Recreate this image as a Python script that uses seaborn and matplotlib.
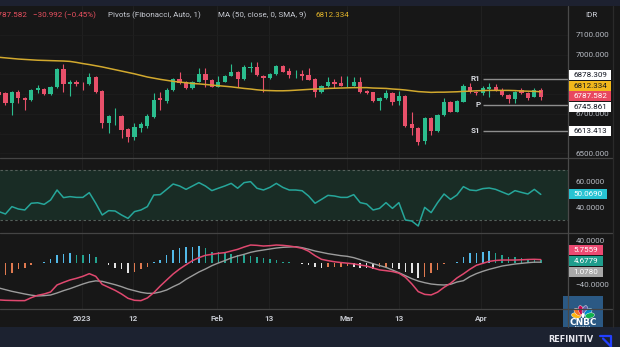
import matplotlib
matplotlib.use("Agg")
import matplotlib.pyplot as plt
import seaborn as sns
import numpy as np
from matplotlib.patches import Rectangle, Ellipse
from matplotlib.lines import Line2D

# ---------------- data ----------------
opens = [6811, 6804, 6754, 6812, 6782, 6770, 6823, 6826, 6799, 6835,
         6927, 6850, 6860, 6851, 6850, 6888, 6816, 6652, 6688, 6689,
         6623, 6584, 6630, 6639, 6686, 6779, 6765, 6821, 6877, 6860,
         6830, 6863, 6901, 6872, 6838, 6863, 6892, 6914, 6877, 6934,
         6939, 6894, 6880, 6902, 6943, 6917, 6896, 6901, 6897, 6875,
         6809, 6841, 6860, 6857, 6845, 6843, 6860, 6816, 6809, 6767,
         6779, 6804, 6765, 6791, 6647, 6630, 6562, 6681, 6613, 6694,
         6759, 6711, 6762, 6838, 6812, 6807, 6826, 6835, 6821, 6796,
         6774, 6819, 6804, 6787, 6818.574]
highs = [6821, 6811, 6817, 6821, 6787, 6824, 6846, 6830, 6843, 6931,
         6951, 6872, 6872, 6860, 6906, 6892, 6820, 6694, 6731, 6694,
         6628, 6652, 6660, 6698, 6804, 6812, 6830, 6882, 6911, 6865,
         6868, 6934, 6931, 6876, 6894, 6896, 6951, 6918, 6948, 6965,
         6965, 6899, 6908, 6946, 6948, 6931, 6922, 6922, 6931, 6880,
         6844, 6888, 6877, 6894, 6894, 6888, 6888, 6820, 6812, 6785,
         6821, 6809, 6816, 6796, 6711, 6635, 6686, 6686, 6698, 6779,
         6765, 6770, 6850, 6855, 6816, 6841, 6855, 6851, 6830, 6801,
         6816, 6830, 6809, 6830, 6830]
lows = [6786, 6745, 6694, 6755, 6720, 6765, 6804, 6796, 6795, 6833,
        6812, 6792, 6841, 6821, 6846, 6808, 6628, 6603, 6644, 6576,
        6559, 6568, 6610, 6630, 6680, 6720, 6754, 6816, 6850, 6824,
        6826, 6860, 6838, 6834, 6834, 6860, 6890, 6838, 6872, 6914,
        6894, 6809, 6877, 6899, 6911, 6880, 6880, 6872, 6870, 6787,
        6806, 6838, 6833, 6841, 6838, 6841, 6804, 6801, 6760, 6720,
        6776, 6745, 6745, 6633, 6593, 6542, 6546, 6593, 6608, 6691,
        6707, 6707, 6760, 6804, 6796, 6796, 6787, 6816, 6791, 6754,
        6754, 6799, 6770, 6785, 6770]
closes = [6796, 6754, 6812, 6779, 6770, 6821, 6830, 6801, 6838, 6927,
          6850, 6860, 6850, 6849, 6888, 6812, 6652, 6688, 6690, 6618,
          6584, 6635, 6647, 6689, 6770, 6770, 6821, 6877, 6855, 6830,
          6863, 6901, 6872, 6838, 6863, 6892, 6914, 6875, 6936, 6939,
          6897, 6884, 6904, 6943, 6914, 6897, 6898, 6894, 6872, 6812,
          6841, 6860, 6850, 6843, 6846, 6860, 6812, 6807, 6765, 6779,
          6804, 6762, 6792, 6640, 6630, 6559, 6681, 6613, 6694, 6762,
          6711, 6765, 6843, 6812, 6804, 6830, 6836, 6821, 6796, 6774,
          6812, 6804, 6782, 6818.574, 6787.582]
ma50 = [6987, 6984, 6981, 6978, 6976, 6974, 6972, 6971, 6970, 6969,
        6968, 6966, 6961, 6955, 6950, 6944, 6938, 6931, 6924, 6917,
        6910, 6903, 6895, 6887, 6881, 6875, 6870, 6865, 6861, 6858,
        6854, 6852, 6849, 6846, 6843, 6840, 6837, 6833, 6829, 6826,
        6822, 6819, 6818, 6817, 6817, 6818, 6820, 6822, 6824, 6826,
        6827, 6829, 6830, 6831, 6832, 6833, 6833, 6833, 6831, 6830,
        6829, 6826, 6824, 6821, 6817, 6813, 6811, 6809, 6810, 6810,
        6811, 6812, 6814, 6815, 6817, 6818, 6819, 6819, 6819, 6819,
        6818, 6816, 6815, 6814, 6812.334]
rsi = [36.3, 34.4, 40.3, 38.4, 37.6, 43.0, 43.4, 42.1, 45.6, 53.6,
       47.5, 48.3, 47.7, 47.7, 51.5, 43.0, 33.6, 37.1, 36.8, 33.6,
       30.9, 36.3, 37.6, 40.3, 49.6, 49.9, 54.1, 58.4, 56.8, 54.1,
       56.8, 59.5, 56.8, 53.1, 55.0, 56.8, 58.9, 55.0, 59.5, 60.3,
       55.0, 53.6, 55.7, 58.9, 55.7, 53.6, 53.6, 53.0, 48.8, 43.0,
       46.1, 49.3, 48.8, 47.7, 47.7, 49.9, 43.5, 42.4, 37.6, 38.9,
       43.5, 38.9, 43.5, 29.6, 28.8, 24.8, 39.7, 35.5, 43.5, 50.4,
       46.1, 49.6, 56.3, 53.6, 53.1, 54.7, 55.2, 54.1, 52.0, 49.9,
       53.1, 51.7, 50.4, 54.1, 50.069]
macd = [-67.0, -67.7, -68.0, -68.3, -68.3, -63.0, -58.7, -56.3, -52.7, -40.0,
        -35.3, -31.0, -28.0, -24.4, -19.6, -24.4, -38.9, -44.3, -49.7, -56.3,
        -64.1, -67.7, -68.3, -63.5, -53.9, -41.9, -31.0, -20.2, -11.2, -3.4,
        3.9, 9.3, 13.5, 15.3, 17.1, 18.3, 21.3, 24.3, 28.5, 32.1,
        31.5, 30.3, 30.9, 32.1, 31.5, 30.3, 28.5, 26.1, 21.0, 12.9,
        6.3, 3.9, 1.9, 0.5, -0.7, -1.9, -4.0, -5.8, -9.4, -12.8,
        -14.2, -15.8, -18.7, -26.0, -38.0, -52.0, -57.0, -58.0, -53.0, -44.3,
        -37.1, -27.4, -20.0, -11.8, -4.6, -1.0, 2.6, 4.2, 5.0, 5.0,
        5.0, 5.4, 6.0, 6.3, 5.7559]
signal = [-45.5, -48.5, -51.5, -53.9, -56.3, -58.4, -59.9, -59.3, -58.1, -54.5,
          -50.3, -46.7, -42.5, -38.3, -34.7, -32.6, -33.5, -36.5, -39.5, -43.1,
          -47.3, -50.3, -53.3, -55.1, -55.1, -52.7, -49.1, -43.1, -37.7, -29.8,
          -23.2, -16.6, -11.2, -5.2, -0.4, 3.9, 8.7, 12.3, 15.3, 18.9,
          21.3, 23.1, 24.9, 26.7, 27.9, 28.5, 29.1, 27.3, 24.5, 21.3,
          18.9, 16.5, 14.7, 12.9, 11.7, 9.3, 5.7, 2.0, -1.6, -4.9,
          -8.2, -13.0, -17.8, -23.2, -28.6, -32.9, -35.9, -38.3, -39.5, -40.1,
          -38.9, -34.7, -32.3, -25.0, -19.6, -15.4, -11.8, -8.8, -5.8, -4.0,
          -2.2, -1.0, 0.2, 1.1, 1.0780]
hist = [-23.0, -22.1, -17.9, -11.8, -10.0, -4.0, 0.5, 1.0, 6.3, 14.5,
        16.0, 17.0, 14.0, 13.5, 15.9, 11.1, 0.5, -4.0, -10.0, -11.8,
        -19.0, -16.0, -11.8, -7.0, 0.8, 5.0, 14.0, 23.0, 26.0, 28.0,
        29.0, 30.0, 26.0, 20.0, 19.0, 17.0, 16.0, 14.0, 13.5, 12.0,
        11.0, 8.0, 6.0, 5.0, 2.0, 1.0, -0.5, -3.0, -4.0, -7.0,
        -10.0, -8.2, -7.0, -6.8, -6.6, -8.2, -10.0, -10.2, -11.8, -8.2,
        -7.0, -10.0, -11.8, -16.0, -19.0, -28.0, -25.0, -19.0, -13.0, -2.8,
        0.3, 1.4, 11.0, 17.0, 18.0, 20.0, 20.5, 17.0, 14.0, 11.0,
        10.0, 8.0, 7.5, 6.2, 4.6779]
date_ticks = [12.8, 20.8, 33.8, 41.9, 53.9, 62.0, 74.8]
date_labels = ["2023", "12", "Feb", "13", "Mar", "13", "Apr"]
pivot_names = ["R1", "P", "S1"]
pivot_values = [6878.309, 6745.861, 6613.413]
pivot_start = 75.0
price_grid = [6500, 6600, 6700, 6800, 6900, 7000, 7100]
price_ticks = [6500, 6700, 7000, 7100]   # the others are hidden under the value boxes
rsi_ticks = [40, 60]
macd_ticks = [-40, 40]

# ---------------- style ----------------
BG = "#171717"
UP, DN = "#2bbd8e", "#e8506a"
MA_COL = "#d2a92e"
RSI_COL = "#26a69a"
MACD_COL, SIG_COL = "#e0486f", "#9c9c9c"
H_BLUE, H_TEAL, H_WHITE, H_ORANGE = "#52b9e8", "#23a390", "#e4e4e4", "#e07a50"
GRID = "#222222"
TXT = "#b8bcc4"
SEP = "#444444"
FS = 5.8

sns.set_theme(style="dark", rc={"axes.facecolor": BG, "figure.facecolor": BG})
plt.rcParams["font.family"] = ["Roboto", "DejaVu Sans"]

W, H = 620, 347
fig = plt.figure(figsize=(6.2, 3.47), dpi=100)
fig.patch.set_facecolor(BG)

def fr(x0, y0, x1, y1):
    return [x0 / W, 1 - y1 / H, (x1 - x0) / W, (y1 - y0) / H]

def fx(x):
    return x / W

def fy(y):
    return 1 - y / H

idx = np.arange(len(closes))
XL = (0.155, 88.22)

axp = fig.add_axes(fr(0, 6, 568, 157.5))
axr = fig.add_axes(fr(0, 157.5, 568, 232.5))
axm = fig.add_axes(fr(0, 232.5, 568, 309))
for ax in (axp, axr, axm):
    ax.set_facecolor(BG)
    ax.grid(False)
    for s in ax.spines.values():
        s.set_visible(False)
    ax.set_xlim(*XL)
    for t in date_ticks:
        ax.axvline(t, color=GRID, lw=0.6, zorder=0)

# ---- price panel ----
o = np.array(opens); c = np.array(closes)
hi = np.array(highs); lo = np.array(lows)
cols = [UP if cc >= oo else DN for oo, cc in zip(o, c)]
for v in price_grid:
    axp.axhline(v, color="#1e1e1e", lw=0.6, zorder=0)
axp.vlines(idx, lo, hi, colors=cols, lw=0.8, zorder=2)
body = np.maximum(np.abs(c - o), 3.0)
axp.bar(idx, body, bottom=np.minimum(o, c), width=0.66, color=cols, linewidth=0, zorder=2)
sns.lineplot(x=idx, y=ma50, ax=axp, color=MA_COL, lw=1.1, legend=False, zorder=3)
for name, v in zip(pivot_names, pivot_values):
    axp.hlines(v, pivot_start, XL[1], color="#8e8e8e", lw=1.0, zorder=2)
    axp.text(pivot_start - 0.35, v, name, ha="right", va="center", color="#d8dae0",
             fontsize=FS, fontweight="bold")
axp.set_ylim(6478.7, 7247)
axp.yaxis.tick_right()
axp.set_yticks(price_ticks)
axp.set_yticklabels([f"{v:.3f}" for v in price_ticks])

# ---- RSI panel ----
axr.axhspan(30, 70, color="#192c25", lw=0, zorder=0)
axr.axhline(70, color="#55605b", lw=0.8, ls=(0, (2.2, 2.2)), zorder=1)
axr.axhline(30, color="#55605b", lw=0.8, ls=(0, (2.2, 2.2)), zorder=1)
sns.lineplot(x=idx, y=rsi, ax=axr, color=RSI_COL, lw=1.1, legend=False, zorder=3)
axr.set_ylim(19.6, 79.6)
axr.yaxis.tick_right()
axr.set_yticks(rsi_ticks)
axr.set_yticklabels([f"{v:.4f}" for v in rsi_ticks])

# ---- MACD panel ----
hcols = []
prev = None
for h in hist:
    p = h if prev is None else prev
    if h >= 0:
        hcols.append(H_BLUE if h > p else H_TEAL)
    else:
        hcols.append(H_WHITE if h < p else H_ORANGE)
    prev = h
axm.bar(idx, hist, width=0.24, color=hcols, linewidth=0, zorder=2)
sns.lineplot(x=idx, y=signal, ax=axm, color=SIG_COL, lw=1.0, legend=False, zorder=3)
sns.lineplot(x=idx, y=macd, ax=axm, color=MACD_COL, lw=1.1, legend=False, zorder=4)
axm.set_ylim(-83.4, 54.7)
axm.yaxis.tick_right()
axm.set_yticks(macd_ticks)
axm.set_yticklabels([f"{v:.4f}".replace("-", "\u2212") for v in macd_ticks])

for ax in (axp, axr, axm):
    ax.set_xlabel(""); ax.set_ylabel("")
    ax.tick_params(axis="y", length=0, pad=5.3, labelsize=FS, labelcolor=TXT,
                   left=False, labelleft=False, right=False, labelright=True)
for ax in (axp, axr):
    ax.set_xticks([])
axm.set_xticks(date_ticks)
axm.set_xticklabels(date_labels)
axm.tick_params(axis="x", length=0, pad=4.6, labelsize=FS, labelcolor="#c4c7ce")
for lab in axm.get_xticklabels():
    lab.set_fontweight("bold")

# ---- frame / separators ----
fig.add_artist(Rectangle((0, fy(6)), 1, 6 / H, transform=fig.transFigure,
                         fc="#1d2130", ec="none", zorder=0.5))
fig.add_artist(Rectangle((0, 0), 1, 20 / H, transform=fig.transFigure,
                         fc="#1c2230", ec="none", zorder=0.5))
for y in (157.5, 232.5, 309):
    fig.add_artist(Line2D([0, fx(613)], [fy(y), fy(y)], color=SEP, lw=0.9,
                          transform=fig.transFigure))
fig.add_artist(Line2D([fx(568), fx(568)], [fy(6), fy(327)], color="#4a4a4a", lw=0.9,
                      transform=fig.transFigure))
fig.add_artist(Line2D([fx(613), fx(613)], [fy(6), fy(327)], color="#2a2a2a", lw=0.9,
                      transform=fig.transFigure))

# ---- header text ----
chg = closes[-1] - closes[-2]
pct = chg / closes[-2] * 100
RED = "#e8505f"
fig.text(fx(27), fy(15), f"{closes[-1]:.3f}", ha="right", va="center", color=RED, fontsize=FS)
fig.text(fx(33), fy(15), f"{chg:.3f} ({pct:.2f}%)".replace("-", "\u2212"), ha="left", va="center",
         color=RED, fontsize=FS)
fig.text(fx(108), fy(15), "Pivots (Fibonacci, Auto, 1)", ha="left", va="center",
         color="#c8cbd3", fontsize=FS)
fig.text(fx(218), fy(15), "MA (50, close, 0, SMA, 9)", ha="left", va="center",
         color="#c8cbd3", fontsize=FS)
fig.text(fx(316), fy(15), f"{ma50[-1]:.3f}", ha="left", va="center", color="#e3b52a", fontsize=FS)
fig.text(fx(591), fy(15), "IDR", ha="center", va="center", color="#d1d4dc", fontsize=FS)

# ---- value boxes on the right scale ----
def vbox(text, yc, x1, fc, tc, x0=569, h=10):
    fig.add_artist(Rectangle((fx(x0), fy(yc + h / 2)), (x1 - x0) / W, h / H,
                             transform=fig.transFigure, fc=fc, ec="none", zorder=3))
    fig.text(fx((x0 + x1) / 2), fy(yc), text, ha="center", va="center", color=tc,
             fontsize=FS, zorder=4)

vbox(f"{pivot_values[0]:.3f}", 75.0, 611, "#ffffff", "#131722")
vbox(f"{ma50[-1]:.3f}", 85.5, 611, "#f2b81c", "#131722")
vbox(f"{closes[-1]:.3f}", 95.7, 611, "#e8475f", "#ffffff")
vbox(f"{pivot_values[1]:.3f}", 107.3, 611, "#ffffff", "#131722")
vbox(f"{pivot_values[2]:.3f}", 131.0, 611, "#ffffff", "#131722")
vbox(f"{rsi[-1]:.4f}", 194.3, 607, "#27c3d2", "#ffffff")
vbox(f"{macd[-1]:.4f}", 250.0, 603, "#ec4a72", "#ffffff")
vbox(f"{hist[-1]:.4f}", 261.0, 603, "#1f9e8d", "#ffffff")
vbox(f"{signal[-1]:.4f}", 271.7, 603, "#a8a8a8", "#ffffff")

# ---- CNBC logo ----
axl = fig.add_axes(fr(563, 296, 603, 333))
axl.set_xlim(0, 40); axl.set_ylim(0, 37); axl.axis("off")
axl.add_patch(Rectangle((0, 0), 40, 37, fc="#2d5f8e", ec="none", alpha=0.92))
feathers = ["#fcb711", "#f37021", "#cc004c", "#6460aa", "#0089d0", "#0db14b"]
angs = np.linspace(168, 12, 6)
for col, a in zip(feathers, angs):
    r = np.deg2rad(a)
    axl.add_patch(Ellipse((20 + 7 * np.cos(r), 16 + 7 * np.sin(r)), 9.5, 5.2, angle=a,
                          fc=col, ec="white", lw=0.3))
axl.add_patch(Ellipse((20, 17.5), 3, 5, fc="white", ec="none"))
axl.text(20, 10.5, "CNBC", ha="center", va="center", color="white", fontsize=6.4,
         fontweight="bold", family=["DejaVu Sans"])
axl.text(20, 5, "INDONESIA", ha="center", va="center", color="white", fontsize=2.2,
         family=["DejaVu Sans"])

# ---- bottom brand ----
fig.text(fx(548), fy(339), "REFINITIV", ha="left", va="center", color="#e8e8ee",
         fontsize=5.9, fontweight="bold", family=["DejaVu Sans"])
fig.add_artist(Line2D([fx(600), fx(611), fx(611)], [fy(336), fy(336), fy(347)],
                      color="#2340ff", lw=1.6, transform=fig.transFigure))
fig.add_artist(Line2D([fx(603), fx(611)], [fy(338.5), fy(346.5)],
                      color="#2340ff", lw=1.6, transform=fig.transFigure))

fig.savefig("out.png", dpi=100, facecolor=BG)
